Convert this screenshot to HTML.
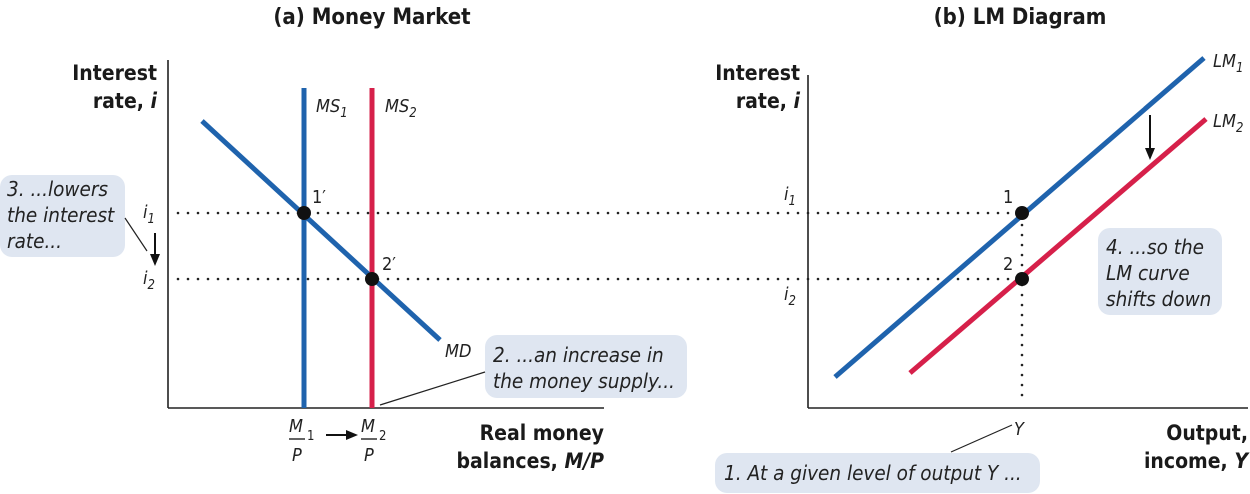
<!DOCTYPE html>
<html><head><meta charset="utf-8"><style>
html,body{margin:0;padding:0;background:#fff;}
svg{display:block;font-family:"DejaVu Sans Condensed","Liberation Sans",sans-serif;}
.t{font-weight:bold;font-size:22px;fill:#1a1a1a;}
.ax{font-weight:bold;font-size:21px;fill:#1a1a1a;}
.it{font-style:italic;font-size:18px;fill:#222;}
.cl{font-style:italic;font-size:20.5px;fill:#222;}
.sm{font-size:18px;fill:#222;}
.sub{font-size:13px;fill:#222;}
</style></head><body>
<svg width="1250" height="494" viewBox="0 0 1250 494" xmlns="http://www.w3.org/2000/svg">
<text x="372" y="24" class="t" text-anchor="middle">(a) Money Market</text>
<text x="1020" y="24" class="t" text-anchor="middle">(b) LM Diagram</text>

<rect x="0" y="175" width="125" height="82" rx="12" fill="#dfe6f1"/>
<rect x="485" y="335" width="202" height="63" rx="12" fill="#dfe6f1"/>
<rect x="1098" y="228" width="124" height="87" rx="12" fill="#dfe6f1"/>
<rect x="715" y="453" width="325" height="40" rx="12" fill="#dfe6f1"/>

<line x1="168" y1="60" x2="168" y2="408" stroke="#222" stroke-width="1.6"/>
<line x1="168" y1="408" x2="604" y2="408" stroke="#222" stroke-width="1.6"/>
<line x1="808" y1="75" x2="808" y2="408" stroke="#222" stroke-width="1.6"/>
<line x1="808" y1="408" x2="1248" y2="408" stroke="#222" stroke-width="1.6"/>

<line x1="178" y1="213" x2="1018" y2="213" stroke="#222" stroke-width="2.6" stroke-dasharray="0,10" stroke-linecap="round"/>
<line x1="178" y1="279" x2="1018" y2="279" stroke="#222" stroke-width="2.6" stroke-dasharray="0,10" stroke-linecap="round"/>
<line x1="1022" y1="225" x2="1022" y2="405" stroke="#222" stroke-width="2.6" stroke-dasharray="0,10" stroke-linecap="round"/>

<line x1="304" y1="88" x2="304" y2="408" stroke="#1f63ad" stroke-width="5"/>
<line x1="372" y1="88" x2="372" y2="408" stroke="#d6204a" stroke-width="5"/>
<line x1="202" y1="121" x2="440" y2="340" stroke="#1f63ad" stroke-width="5"/>
<circle cx="304" cy="213" r="7" fill="#111"/>
<circle cx="372" cy="279" r="7" fill="#111"/>

<line x1="835" y1="377" x2="1204" y2="58" stroke="#1f63ad" stroke-width="5"/>
<line x1="910" y1="373" x2="1206" y2="119" stroke="#d6204a" stroke-width="5"/>
<circle cx="1022" cy="213" r="7" fill="#111"/>
<circle cx="1022" cy="279" r="7" fill="#111"/>

<line x1="1150" y1="115" x2="1150" y2="150" stroke="#111" stroke-width="2"/>
<polygon points="1145,148 1155,148 1150,160" fill="#111"/>
<line x1="155" y1="233" x2="155" y2="256" stroke="#111" stroke-width="2"/>
<polygon points="150,254 160,254 155,266" fill="#111"/>
<line x1="326" y1="435" x2="348" y2="435" stroke="#111" stroke-width="2"/>
<polygon points="346,430 358,435 346,440" fill="#111"/>

<line x1="125" y1="218" x2="147" y2="251" stroke="#222" stroke-width="1.2"/>
<line x1="380" y1="405" x2="485" y2="372" stroke="#222" stroke-width="1.2"/>
<line x1="951" y1="452" x2="1012" y2="425" stroke="#222" stroke-width="1.2"/>

<text x="157" y="80" class="ax" text-anchor="end">Interest</text>
<text x="157" y="108" class="ax" text-anchor="end">rate, <tspan font-style="italic">i</tspan></text>
<text x="800" y="80" class="ax" text-anchor="end">Interest</text>
<text x="800" y="108" class="ax" text-anchor="end">rate, <tspan font-style="italic">i</tspan></text>
<text x="604" y="440" class="ax" text-anchor="end">Real money</text>
<text x="604" y="468" class="ax" text-anchor="end">balances, <tspan font-style="italic">M/P</tspan></text>
<text x="1248" y="440" class="ax" text-anchor="end">Output,</text>
<text x="1248" y="468" class="ax" text-anchor="end">income, <tspan font-style="italic">Y</tspan></text>

<text x="316" y="112" class="it">MS<tspan class="sub" dy="5">1</tspan></text>
<text x="385" y="112" class="it">MS<tspan class="sub" dy="5">2</tspan></text>
<text x="445" y="357" class="it">MD</text>
<text x="1213" y="67" class="it">LM<tspan class="sub" dy="5">1</tspan></text>
<text x="1213" y="127" class="it">LM<tspan class="sub" dy="5">2</tspan></text>
<text x="312" y="203" class="sm">1′</text>
<text x="382" y="270" class="sm">2′</text>
<text x="1003" y="203" class="sm">1</text>
<text x="1003" y="270" class="sm">2</text>
<text x="143" y="218" class="it">i<tspan class="sub" dy="5">1</tspan></text>
<text x="143" y="284" class="it">i<tspan class="sub" dy="5">2</tspan></text>
<text x="784" y="200" class="it">i<tspan class="sub" dy="5">1</tspan></text>
<text x="784" y="300" class="it">i<tspan class="sub" dy="5">2</tspan></text>
<text x="1014" y="435" class="it">Y</text>

<text x="289" y="432" class="it">M</text><text x="307" y="440" class="sub">1</text>
<line x1="289" y1="439" x2="305" y2="439" stroke="#222" stroke-width="1.4"/>
<text x="292" y="461" class="it">P</text>
<text x="361" y="432" class="it">M</text><text x="379" y="440" class="sub">2</text>
<line x1="361" y1="439" x2="377" y2="439" stroke="#222" stroke-width="1.4"/>
<text x="364" y="461" class="it">P</text>

<text x="7" y="196" class="cl">3. ...lowers</text>
<text x="7" y="222" class="cl">the interest</text>
<text x="7" y="248" class="cl">rate...</text>
<text x="493" y="362" class="cl">2. ...an increase in</text>
<text x="493" y="388" class="cl">the money supply...</text>
<text x="1106" y="254" class="cl">4. ...so the</text>
<text x="1106" y="280" class="cl">LM curve</text>
<text x="1106" y="306" class="cl">shifts down</text>
<text x="724" y="480" class="cl">1. At a given level of output Y ...</text>
</svg>
</body></html>
